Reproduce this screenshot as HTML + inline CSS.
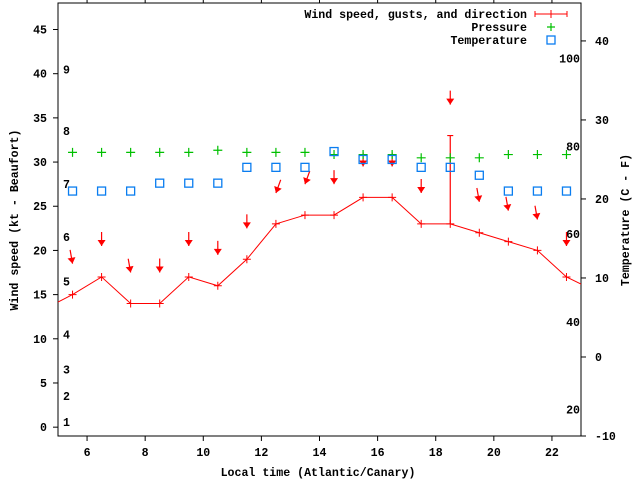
<!DOCTYPE html>
<html><head><meta charset="utf-8"><style>
html,body{margin:0;padding:0;background:#fff;}
svg{display:block;font-family:"Liberation Mono","DejaVu Sans Mono",monospace;font-weight:bold;font-size:11.6px;}
</style></head><body>
<svg id="chart" width="640" height="480" viewBox="0 0 640 480" xmlns="http://www.w3.org/2000/svg">
<g id="axes"></g>
<g id="plot"></g>
<g id="legend"></g>
</svg>
<script>
const hours = [4.5,5.5,6.5,7.5,8.5,9.5,10.5,11.5,12.5,13.5,14.5,15.5,16.5,17.5,18.5,19.5,20.5,21.5,22.5,23.5];
const windSpeed = [13.3,15,17,14,14,17,16,19,23,24,24,26,26,23,23,22,21,20,17,15.4];
const gusts = [null,null,null,null,null,null,null,null,null,null,null,null,null,null,33,null,null,null,null,null];
const windDir = [350,350,0,350,0,0,0,0,20,20,0,0,0,0,0,350,350,350,0,0];
const obsHours = [5.5,6.5,7.5,8.5,9.5,10.5,11.5,12.5,13.5,14.5,15.5,16.5,17.5,18.5,19.5,20.5,21.5,22.5];
const pressure = [1016.2,1016.2,1016.2,1016.2,1016.2,1016.4,1016.2,1016.2,1016.2,1016.0,1016.0,1016.0,1015.7,1015.7,1015.7,1016.0,1016.0,1016.0];
const temperature = [21,21,21,22,22,22,24,24,24,26,25,25,24,24,23,21,21,21];
const xTicks = [6,8,10,12,14,16,18,20,22];
const yTicks = [0,5,10,15,20,25,30,35,40,45];
const tTicks = [-10,0,10,20,30,40];
const fLabels = [20,40,60,80,100];
const bftLabels = [1,2,3,4,5,6,7,8,9];
const bftKt = [0.6,3.5,6.5,10.5,16.5,21.5,27.5,33.5,40.5];

const L=58,R=581,T=3,B=436;
const X=v=>L+(v-5)/(23-5)*(R-L);
const Y=v=>B-(v+1)/(48+1)*(B-T);
const YT=c=>B-(c+10)/(44.8+10)*(B-T);
const YP=p=>T+(1030-p)/40*(B-T);
const NS="http://www.w3.org/2000/svg";
function mk(tag,attrs,parent,txt){const e=document.createElementNS(NS,tag);for(const k in attrs)e.setAttribute(k,attrs[k]);if(txt!==undefined)e.textContent=txt;parent.appendChild(e);return e;}
const axes=document.getElementById('axes'),plot=document.getElementById('plot'),leg=document.getElementById('legend');

let e=mk('rect',{x:L,y:T,width:R-L,height:B-T,fill:'none',stroke:'#000','stroke-width':1},axes);


xTicks.forEach(v=>{
  const x=X(v);
  mk('line',{x1:x,y1:B,x2:x,y2:B+5,stroke:'#000'},axes);
  mk('line',{x1:x,y1:T,x2:x,y2:T-5,stroke:'#000'},axes);
  let t=mk('text',{x:x,y:456,'text-anchor':'middle'},axes,String(v));
  
  
});
yTicks.forEach(v=>{
  const y=Y(v);
  mk('line',{x1:L-5,y1:y,x2:L,y2:y,stroke:'#000'},axes);
  let t=mk('text',{x:47,y:y+4,'text-anchor':'end'},axes,String(v));
  
  
});
tTicks.forEach(v=>{
  const y=YT(v);
  mk('line',{x1:R,y1:y,x2:R+5,y2:y,stroke:'#000'},axes);
  let t=mk('text',{x:595,y:y+4,'text-anchor':'start'},axes,String(v));
  
  
});
fLabels.forEach(f=>{
  const c=(f-32)*5/9;
  let t=mk('text',{x:580,y:YT(c)+4,'text-anchor':'end'},axes,String(f));
  
  
});
bftLabels.forEach((b,i)=>{
  let t=mk('text',{x:63,y:Y(bftKt[i])+4},axes,String(b));
  
  
});
let xl=mk('text',{x:318,y:476,'text-anchor':'middle'},axes,'Local time (Atlantic/Canary)');


let yl=mk('text',{x:0,y:0,'text-anchor':'middle',transform:'translate(18,220) rotate(-90)'},axes,'Wind speed (kt - Beaufort)');


let y2=mk('text',{x:0,y:0,'text-anchor':'middle',transform:'translate(629,220) rotate(-90)'},axes,'Temperature (C - F)');



// clip
const defs=mk('defs',{},plot);
const cp=mk('clipPath',{id:'clip'},defs);
mk('rect',{x:L,y:T,width:R-L,height:B-T},cp);
const g=mk('g',{'clip-path':'url(#clip)'},plot);

// wind line
let pts=hours.map((h,i)=>X(h)+','+Y(windSpeed[i])).join(' ');
let wl=mk('polyline',{points:pts,fill:'none',stroke:'#f00','stroke-width':1},g);


hours.forEach((h,i)=>{
  const x=X(h),y=Y(windSpeed[i]);
  let p=mk('path',{d:`M${x-4},${y}H${x+4}M${x},${y-4}V${y+4}`,stroke:'#f00','stroke-width':1},g);
  
  
  let top=windSpeed[i];
  if(gusts[i]!==null){
    const yg=Y(gusts[i]);
    let b=mk('path',{d:`M${x},${y}V${yg}M${x-3},${yg}H${x+3}`,stroke:'#f00','stroke-width':1.2},g);
    
    
    top=gusts[i];
  }
  // direction arrow
  const hy=Y(top+3.5),hx=x;
  const a=windDir[i]*Math.PI/180;
  const dx=-Math.sin(a),dy=Math.cos(a),len=14;
  const tx=hx-dx*len,ty=hy-dy*len;
  const bx=hx-dx*6,by=hy-dy*6,px=-dy,py=dx;
  let ar=mk('g',{},g);
  
  
  mk('line',{x1:tx,y1:ty,x2:hx,y2:hy,stroke:'#f00','stroke-width':1.2},ar);
  mk('polygon',{points:`${hx},${hy} ${bx+px*4},${by+py*4} ${bx-px*4},${by-py*4}`,fill:'#f00'},ar);
});
obsHours.forEach((h,i)=>{
  const x=X(h),y=YP(pressure[i]);
  let p=mk('path',{d:`M${x-4.5},${y}H${x+4.5}M${x},${y-4.5}V${y+4.5}`,stroke:'#00c000','stroke-width':1.2},g);
  
  
});
obsHours.forEach((h,i)=>{
  const x=X(h),y=YT(temperature[i]);
  let r=mk('rect',{x:x-4,y:y-4,width:8,height:8,fill:'none',stroke:'#0a7df0','stroke-width':1.3},g);
  
  
});

// legend
const rows=[['Wind speed, gusts, and direction',14],['Pressure',27],['Temperature',40]];
rows.forEach(([t,y],i)=>{
  let tx=mk('text',{x:527,y:y+4,'text-anchor':'end'},leg,t);
  
  
});
mk('path',{d:'M535,14H567M535,11V17M567,11V17M551,10V18',stroke:'#f00','stroke-width':1},leg);
mk('path',{d:'M547,27H555M551,23V31',stroke:'#00c000','stroke-width':1.2},leg);
mk('rect',{x:547,y:36,width:8,height:8,fill:'none',stroke:'#0a7df0','stroke-width':1.3},leg);
</script>
</body></html>
